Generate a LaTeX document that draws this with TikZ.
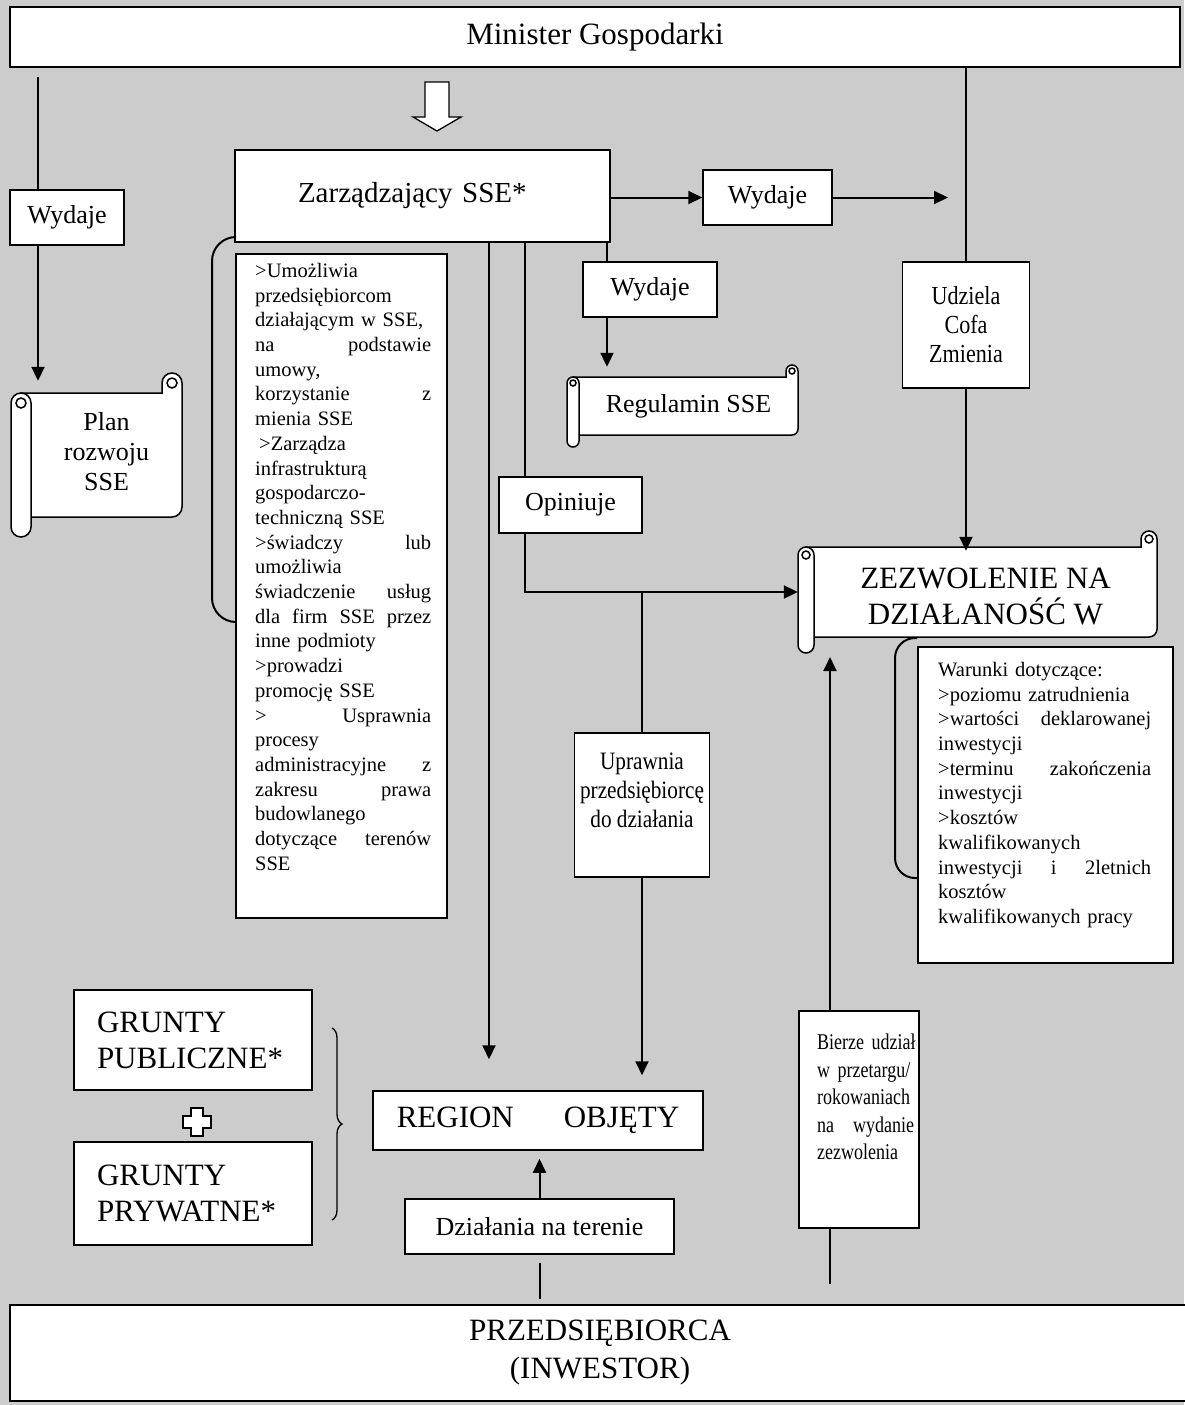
\documentclass[tikz,border=0pt]{standalone}
\usepackage{fontspec}
\setmainfont{Liberation Serif}
\newfontfamily\narrowfont[FakeStretch=0.85]{Liberation Serif}
\newfontfamily\narrowerfont[FakeStretch=0.8]{Liberation Serif}
\usetikzlibrary{arrows.meta,decorations.pathreplacing}

\definecolor{bggray}{HTML}{CCCCCC}

\tikzset{
  box/.style={draw, fill=white, line width=1.5pt, inner sep=0pt},
  boxsize/.style 2 args={minimum width=#1, minimum height=#2},
  bigtxt/.style={font=\fontsize{31}{36}\selectfont},
  midtxt/.style={font=\fontsize{26}{29}\selectfont},
  smalltxt/.style={font=\fontsize{20.5}{24.7}\selectfont},
  scrollline/.style={draw, fill=white, line width=1.5pt},
  conn/.style={line width=2pt},
  arr/.style={conn, -{Triangle[length=14pt,width=13pt]}},
}

% scroll: left, top, right, bottom (y down), curl radius
\newcommand{\scrollbox}[5]{%
  \filldraw[scrollline] ({#1+#5},-#2) -- ({#3-2*#5},-#2) -- ({#3-2*#5},{-#2+#5})
    arc[start angle=180,end angle=0,radius=#5] -- (#3,{-#4+#5})
    arc[start angle=0,end angle=-90,radius=#5] -- ({#1+#5},-#4) -- cycle;
  \draw[scrollline] ({#3-#5},{-#2+#5}) circle[radius=#5/2];
  \filldraw[scrollline] (#1,{-#2-#5}) -- (#1,{-#4-#5})
    arc[start angle=180,end angle=360,radius=#5] -- ({#1+2*#5},{-#2-#5})
    arc[start angle=0,end angle=180,radius=#5] -- cycle;
  \draw[scrollline] ({#1+#5},{-#2-#5}) circle[radius=#5/2];
}

\begin{document}
\begin{tikzpicture}[x=1pt,y=1pt]
\useasboundingbox (0,0) rectangle (1184,-1405);
\fill[bggray] (0,0) rectangle (1184,-1405);

% top and bottom bars
\node[box, boxsize={1170}{60}, bigtxt] (minister) at (595,-37) {Minister Gospodarki};
\node[box, boxsize={1180}{96}, font=\fontsize{31}{38}\selectfont, align=center] (przeds) at (600,-1353) {PRZEDSIĘBIORCA\\(INWESTOR)};

% left column
\coordinate (colL) at (38,-77);
\node[box, boxsize={114}{55}, midtxt] (wydL) at (67,-217.5) {Wydaje};
\scrollbox{11}{393}{182}{517}{10}
\node[font=\fontsize{26}{30}\selectfont, boxsize={151}{124}, align=center] (plan) at (106.5,-452) {Plan\\rozwoju\\SSE};

% zarzadzajacy
\node[box, boxsize={375}{92}, font=\fontsize{29}{34}\selectfont, text width=249, inner xsep=63, align=left] (zarz) at (422.5,-196) {Zarządzający SSE*};
\filldraw[fill=white, line width=1.3pt] (425,-82) -- (449,-82) -- (449,-117) -- (461,-117)
  -- (437,-131) -- (413,-117) -- (425,-117) -- cycle;

% right column
\node[box, boxsize={129}{55}, midtxt] (wydR) at (767.5,-197.5) {Wydaje};
\coordinate (wydRend) at (948,-197.5);
\node[box, boxsize={127}{126}, font=\narrowfont\fontsize{26}{29}\selectfont, align=center] (udz) at (966,-325) {Udziela\\Cofa\\Zmienia};

% middle
\coordinate (colA) at (489,0);
\coordinate (colB) at (525,0);
\coordinate (colD) at (607,0);
\coordinate (rowZ) at (0,-592);
\node[box, boxsize={134}{55}, midtxt] (wydM) at (650,-289.5) {Wydaje};
\scrollbox{567}{377}{798}{435}{6}
\node[midtxt, boxsize={219}{58}] (regul) at (688.5,-406) {Regulamin SSE};
\node[box, boxsize={143}{56}, midtxt] (opin) at (570.5,-505) {Opiniuje};
\node[box, boxsize={135}{144}] (upr) at (642,-805) {};
\node[font=\narrowfont\fontsize{25}{29}\selectfont, align=center] (uprtxt) at (642,-790) {Uprawnia\\przedsiębiorcę\\do działania};

% list of tasks
\node[box, boxsize={211}{664}, anchor=north west] (listbox) at (235,-253) {};
\node[smalltxt, text width=176, align=left, anchor=north west, inner sep=0pt] (listtxt) at (255,-263) {%
>Umożliwia\\
przedsiębiorcom\\
działającym w SSE,\\
na\hfill podstawie\\
umowy,\\
korzystanie\hfill z\\
mienia SSE\\
\hspace*{4pt}>Zarządza\\
infrastrukturą\\
gospodarczo-\\
techniczną SSE\\
>świadczy\hfill lub\\
umożliwia\\
świadczenie\hfill usług\\
dla\hfill firm\hfill SSE\hfill przez\\
inne podmioty\\
>prowadzi\\
promocję SSE\\
>\hfill Usprawnia\\
procesy\\
administracyjne\hfill z\\
zakresu\hfill prawa\\
budowlanego\\
dotyczące\hfill terenów\\
SSE};
\draw[conn, rounded corners=24pt] (235,-237) -- (212,-237) -- (212,-622) -- (235,-622);

% permit
\scrollbox{798}{547}{1157}{637}{8}
\node[bigtxt, boxsize={343}{90}, align=center] (zezw) at (985.5,-596) {ZEZWOLENIE NA\\DZIAŁANOŚĆ W};
\node[box, boxsize={255}{316}, anchor=north west] (warbox) at (917,-646) {};
\node[smalltxt, text width=213, align=left, anchor=north west, inner sep=0pt] (wartxt) at (938,-662) {%
Warunki dotyczące:\\
>poziomu zatrudnienia\\
>wartości\hfill deklarowanej\\
inwestycji\\
>terminu\hfill zakończenia\\
inwestycji\\
>kosztów\\
kwalifikowanych\\
inwestycji\hfill i\hfill 2letnich\\
kosztów\\
kwalifikowanych pracy};
\draw[conn, rounded corners=20pt] (917,-638) -- (895,-638) -- (895,-878) -- (917,-878);

% lower part
\node[box, boxsize={330}{59}, bigtxt] (region) at (538,-1120.5) {REGION\hspace{50pt}OBJĘTY};
\node[box, boxsize={269}{55}, midtxt] (dzial) at (539.5,-1226.5) {Działania na terenie};
\node[box, boxsize={238}{100}, bigtxt, text width=192, inner xsep=23, align=left] (grPub) at (193,-1040) {GRUNTY\\PUBLICZNE*};
\node[box, boxsize={238}{103}, bigtxt, text width=192, inner xsep=23, align=left] (grPryw) at (193,-1193.5) {GRUNTY\\PRYWATNE*};
\filldraw[fill=white, line width=1.3pt] (191,-1108) -- (203,-1108) -- (203,-1116) -- (211,-1116)
  -- (211,-1128) -- (203,-1128) -- (203,-1136) -- (191,-1136) -- (191,-1128) -- (183,-1128)
  -- (183,-1116) -- (191,-1116) -- cycle;
\draw[line width=1.3pt, decorate, decoration={brace, amplitude=10pt}] (332,-1028) -- (332,-1220);
\node[box, boxsize={120}{217}, anchor=north west] (bierze) at (798,-1010) {};
\node[font=\narrowerfont\fontsize{22.5}{27.5}\selectfont, text width=97, align=left, anchor=north west, inner sep=0pt] (biertxt) at (817,-1034) {%
\mbox{Bierze udział}\\
w przetargu/\\
rokowaniach\\
na\hfill wydanie\\
zezwolenia};
\coordinate (bzTip) at (830,-657);

% connectors
\draw[conn] (colL) -- (colL |- wydL.north);
\draw[arr, shorten >=9pt] (colL |- wydL.south) -- (colL |- plan.north);
\draw[arr] (zarz.east |- wydR.west) -- (wydR.west);
\draw[arr] (wydR.east) -- (wydRend);
\draw[conn] (minister.south -| udz.north) -- (udz.north);
\draw[arr] (udz.south) -- (udz.south |- zezw.north);
\draw[conn] (zarz.south -| colD) -- (wydM.north -| colD);
\draw[arr, shorten >=10pt] (wydM.south -| colD) -- (regul.north -| colD);
\draw[arr, shorten >=31pt] (zarz.south -| colA) -- (region.north -| colA);
\draw[conn] (zarz.south -| colB) -- (opin.north -| colB);
\draw[arr, shorten >=16pt] (opin.south -| colB) |- (zezw.west |- rowZ);
\draw[conn] (upr.north |- rowZ) -- (upr.north);
\draw[arr, shorten >=15pt] (upr.south) -- (upr.south |- region.north);
\draw[arr, shorten >=8pt] (dzial.north) -- (dzial.north |- region.south);
\draw[conn, shorten <=8pt, shorten >=5pt] (dzial.south) -- (dzial.south |- przeds.north);
\draw[arr] (bierze.north -| bzTip) -- (bzTip);
\draw[conn, shorten >=20pt] (bierze.south -| bzTip) -- (bzTip |- przeds.north);
\end{tikzpicture}
\end{document}
